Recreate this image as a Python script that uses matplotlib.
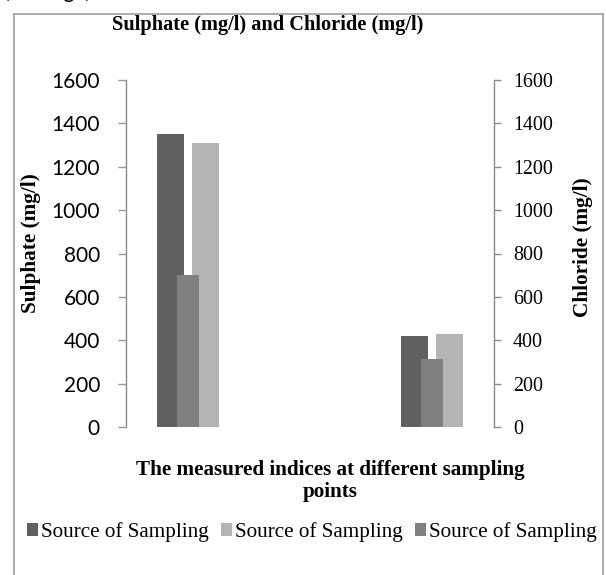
import matplotlib
matplotlib.use("Agg")
import matplotlib.pyplot as plt
from matplotlib.lines import Line2D
from matplotlib.patches import Patch
import numpy as np

# ---- data ----
categories = ["Sampling point 1", "Sampling point 2"]
series_names = ["Source of Sampling", "Source of Sampling", "Source of Sampling"]
series_dark = [1350, 420]     # primary axis (Sulphate)
series_light = [1310, 430]    # primary axis (Sulphate)
series_mid = [700, 315]       # secondary axis (Chloride)
yticks = [0, 200, 400, 600, 800, 1000, 1200, 1400, 1600]

W, H = 606, 575
fig = plt.figure(figsize=(W / 100, H / 100), dpi=100)

def fx(px):
    return px / W

def fy(py):
    return 1 - py / H

ax = fig.add_axes([fx(126), fy(427), fx(494) - fx(126), fy(80) - fy(427)])
ax2 = ax.twinx()

x = np.arange(len(categories))
c_dark, c_light, c_mid = "#606060", "#b4b4b4", "#808080"
wide, narrow, off = 0.1105, 0.094, 0.0716

ax.bar(x - off, series_dark, width=wide, color=c_dark, zorder=2)
ax.bar(x + off, series_light, width=wide, color=c_light, zorder=2)
ax2.bar(x, series_mid, width=narrow, color=c_mid, zorder=2)

for a in (ax, ax2):
    a.set_ylim(0, 1600)
    a.set_xlim(-0.254, 1.254)
    a.set_yticks(yticks)
    a.set_xticks([])
    a.spines["top"].set_visible(False)
    a.spines["bottom"].set_visible(False)
    a.patch.set_visible(False)

ax.spines["right"].set_visible(False)
ax.spines["left"].set_color("#8a8a8a")
ax.spines["left"].set_linewidth(1.0)
ax2.spines["left"].set_visible(False)
ax2.spines["right"].set_color("#8a8a8a")
ax2.spines["right"].set_linewidth(1.0)

ax.tick_params(axis="y", direction="out", length=5.8, width=1.0, color="#9a9a9a",
               pad=13, labelsize=15, labelcolor="black")
for lab in ax.get_yticklabels():
    lab.set_family("Lato")
ax2.tick_params(axis="y", direction="out", length=5.0, width=1.0, color="#8a8a8a",
                pad=8.6, labelsize=14.4, labelcolor="black")
for lab in ax2.get_yticklabels():
    lab.set_family("Liberation Serif")

serif = "Liberation Serif"
fig.text(fx(268), fy(25), "Sulphate (mg/l) and Chloride (mg/l)", ha="center", va="center",
         family=serif, fontweight="bold", fontsize=14.7)
fig.text(fx(31), fy(243), "Sulphate (mg/l)", rotation=90, ha="center", va="center",
         family=serif, fontweight="bold", fontsize=15.3)
fig.text(fx(583), fy(247), "Chloride (mg/l)", rotation=90, ha="center", va="center",
         family=serif, fontweight="bold", fontsize=15.3)
fig.text(fx(330), fy(481), "The measured indices at different sampling\npoints", ha="center",
         va="center", multialignment="center", family=serif, fontweight="bold",
         fontsize=15.2, linespacing=1.15)

# partially visible caption at the very top (cut off in the reference too)
fig.text(fx(4), fy(-2), "(Average)", ha="left", va="baseline", family="Lato", fontsize=15)

handles = [Patch(facecolor=c, edgecolor="none") for c in (c_dark, c_light, c_mid)]
fig.legend(handles, series_names, loc="center", bbox_to_anchor=(fx(312), fy(532)), ncol=3,
           frameon=False, prop={"family": serif, "size": 15.2}, handlelength=0.52,
           handleheight=0.52, handletextpad=0.15, columnspacing=0.57, borderpad=0,
           borderaxespad=0)

# outer chart border (bottom edge not visible)
bc = "#a6a6a6"
fig.add_artist(Line2D([fx(13.5), fx(13.5)], [fy(13.5), 0], color=bc, lw=1.3, transform=fig.transFigure))
fig.add_artist(Line2D([fx(13.5), fx(603)], [fy(13.5), fy(13.5)], color=bc, lw=1.3, transform=fig.transFigure))
fig.add_artist(Line2D([fx(603), fx(603)], [fy(13.5), 0], color=bc, lw=1.3, transform=fig.transFigure))

fig.savefig("out.png", dpi=100)
